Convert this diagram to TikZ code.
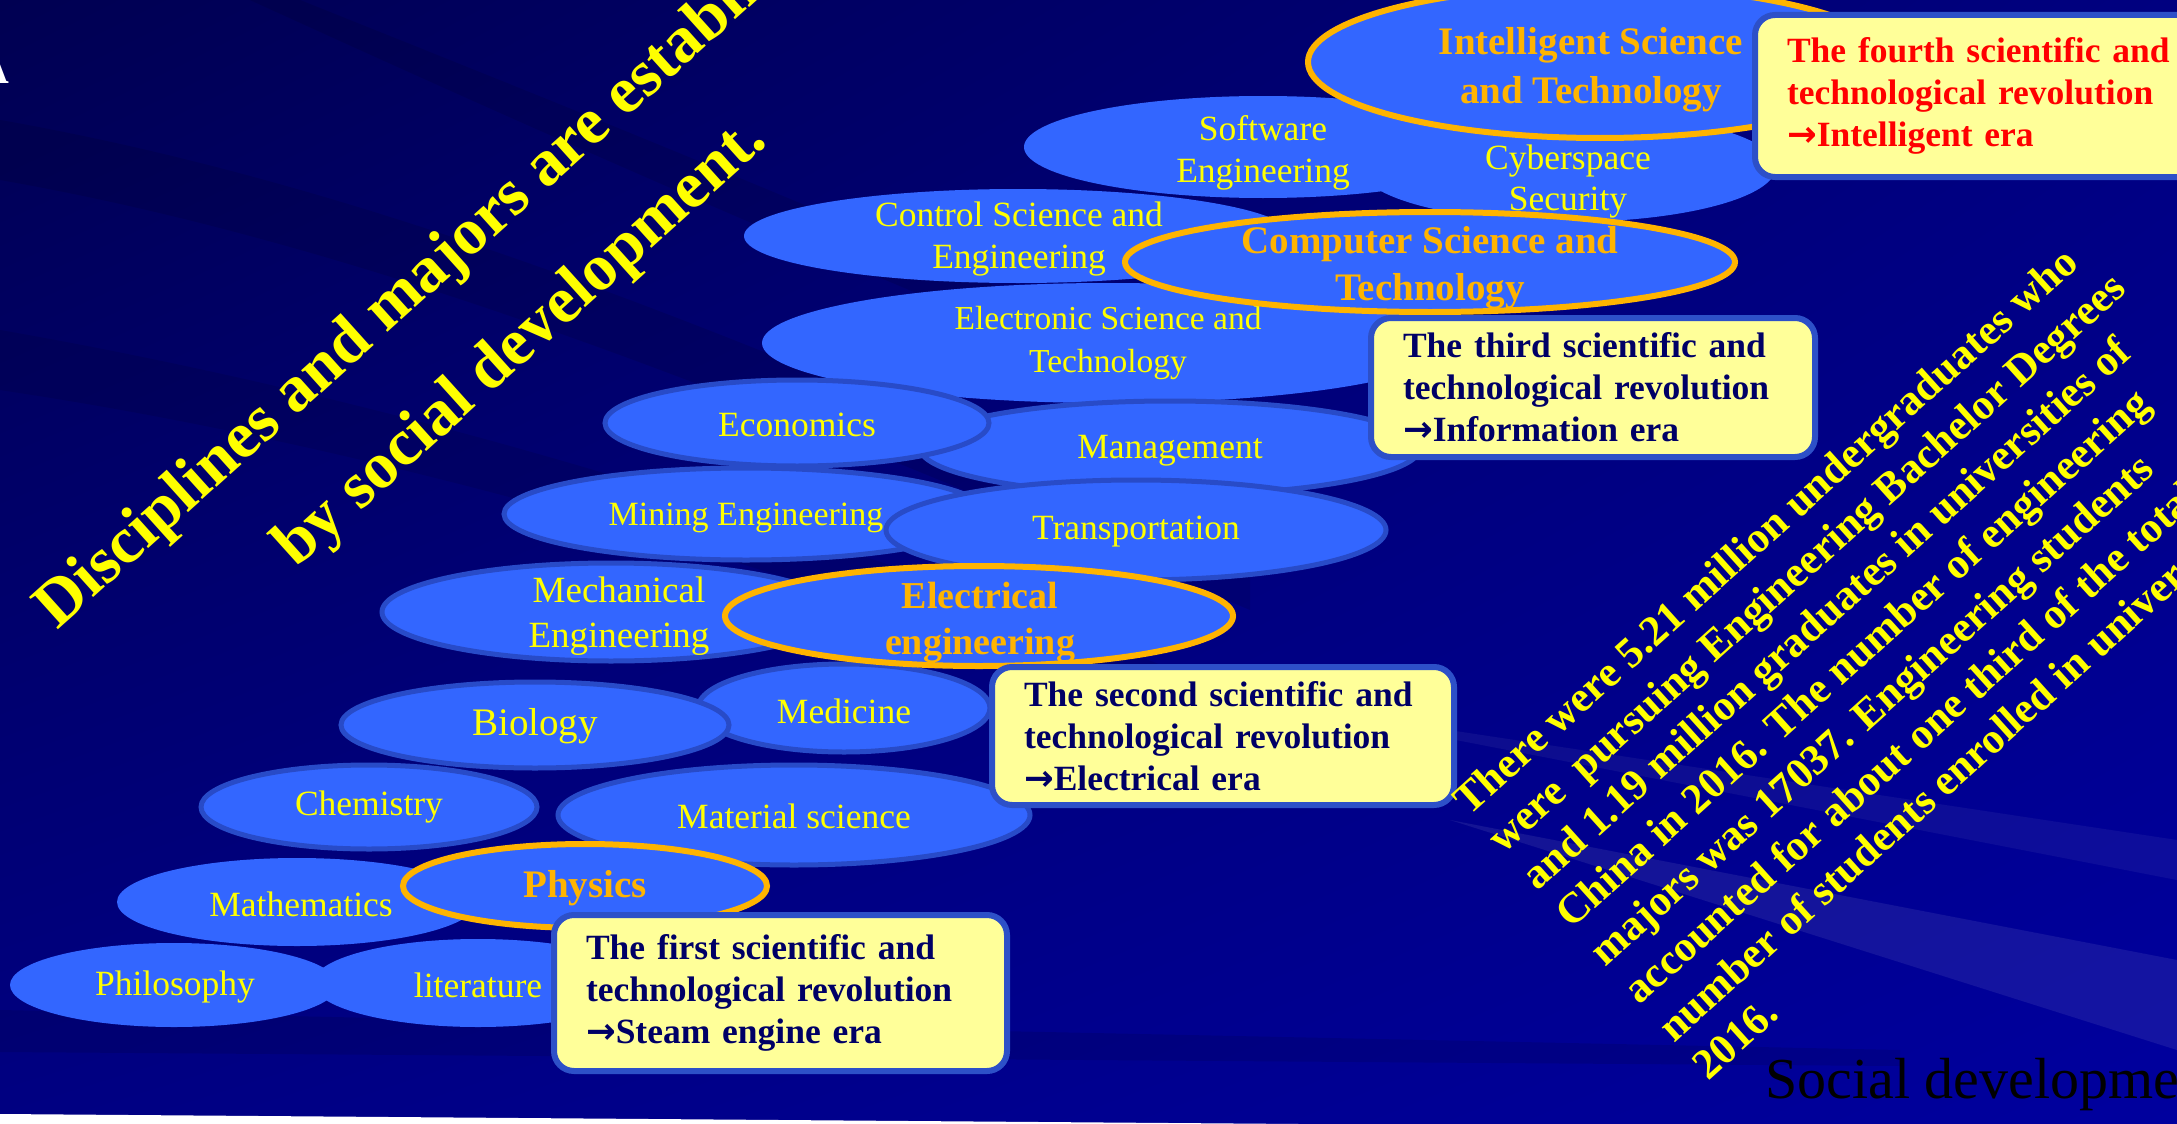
\documentclass[tikz,border=0pt]{standalone}
\usepackage{fontspec}
\setmainfont{Liberation Serif}
\newfontfamily\arrowfont{DejaVu Sans}
\newcommand\erarrow{{\arrowfont\bfseries →}}
\usetikzlibrary{shadings}
\definecolor{ellblue}{RGB}{51,102,255}
\definecolor{ellline}{RGB}{40,75,200}
\definecolor{orng}{RGB}{255,180,0}
\definecolor{yel}{RGB}{255,255,0}
\definecolor{boxfill}{RGB}{255,255,153}
\definecolor{boxline}{RGB}{45,80,200}
\definecolor{navytxt}{RGB}{0,0,102}
\definecolor{bgTL}{RGB}{0,0,82}
\definecolor{bgTR}{RGB}{0,0,128}
\definecolor{bgBL}{RGB}{0,0,130}
\definecolor{bgBR}{RGB}{0,0,158}
\begin{document}
\begin{tikzpicture}[x=1pt,y=-1pt,
  ellp/.style={fill=ellblue},
  ello/.style={fill=ellblue, draw=ellline, line width=5pt},
  ellh/.style={fill=ellblue, draw=orng, line width=6pt},
  lbl/.style={text=yel, inner sep=0pt, align=center, font=\fontsize{35.5}{42}\selectfont},
  lblh/.style={text=orng, inner sep=0pt, align=center, font=\bfseries\fontsize{39}{47}\selectfont},
  erabox/.style={draw=boxline, line width=6pt, fill=boxfill, rounded corners=20pt, align=left, text=navytxt, font=\bfseries\fontsize{35.5}{42}\selectfont, inner xsep=32pt, inner ysep=0pt, anchor=north west},
  ttl/.style={text=yel, inner sep=0pt, anchor=base west, rotate=42, font=\bfseries\fontsize{66}{70}\selectfont},
]
\useasboundingbox (0,0) rectangle (2177,1124);
\clip (0,0) rectangle (2177,1124);
% background
\shade[upper left=bgTL, upper right=bgTR, lower left=bgBL, lower right=bgBR] (0,0) rectangle (2177,1124);
\fill[black, opacity=0.10] (0,120) .. controls (400,190) and (800,360) .. (1250,560) -- (1250,610) .. controls (800,420) and (400,250) .. (0,180) -- cycle;
\fill[black, opacity=0.09] (0,330) .. controls (400,400) and (800,520) .. (1250,700) -- (1250,740) .. controls (800,570) and (400,450) .. (0,390) -- cycle;
\fill[black, opacity=0.10] (300,0) .. controls (600,120) and (900,240) .. (1300,420) -- (1300,450) .. controls (900,290) and (600,160) .. (250,0) -- cycle;
\fill[black, opacity=0.10] (0,1010) -- (1900,1050) -- (1900,1066) -- (0,1052) -- cycle;
\fill[white, opacity=0.08] (1450,820) -- (2177,960) -- (2177,1050) -- cycle;
\fill[white, opacity=0.05] (1250,700) -- (2177,840) -- (2177,880) -- cycle;
\fill[white] (0,1114) -- (1300,1124) -- (0,1124) -- cycle;
\node[anchor=base east, text=white, inner sep=0pt, font=\bfseries\fontsize{44}{44}\selectfont] (afrag) at (9,84) {A};

% title
\node[ttl] (title1) at (57,631) {Disciplines and majors are established};
\node[ttl] (title2) at (296,569) {by social development.};

% bottom group
\path[ellp] (174,985) ellipse [x radius=164, y radius=42];
\node[lbl] (phil) at (175,987) {Philosophy};
\path[ellp] (478,983) ellipse [x radius=165, y radius=44];
\node[lbl] (lit) at (478,985) {literature};
\path[ellp] (297,902) ellipse [x radius=180, y radius=44];
\node[lbl] (math) at (301,904) {Mathematics};
\path[ello] (369,807) ellipse [x radius=168, y radius=42];
\node[lbl] (chem) at (369,807) {Chemistry};
\path[ello] (794,815) ellipse [x radius=236, y radius=50];
\node[lbl] (mat) at (794,816) {Material science};
\path[ellh] (585,886) ellipse [x radius=182, y radius=42];
\node[lblh] (phys) at (585,888) {Physics};
\node[erabox, minimum width=453pt, minimum height=156pt, text width=389pt] (era1) at (551,912) {The first scientific and\\technological revolution\\\erarrow Steam engine era};

% second group
\path[ello] (844,708) ellipse [x radius=146, y radius=44];
\node[lbl] (med) at (844,711) {Medicine};
\path[ello] (535,725) ellipse [x radius=194, y radius=43];
\node[lbl, font=\fontsize{39}{42}\selectfont] (bio) at (535,726) {Biology};
\path[ellp] (1018,236) ellipse [x radius=274, y radius=47];
\node[lbl] (ctrl) at (1019,239) {Control Science and\\Engineering};
\path[ellp] (1108,343) ellipse [x radius=346, y radius=60];
\node[lbl, font=\fontsize{33.5}{43}\selectfont] (elec) at (1108,343) {Electronic Science and\\Technology};
\path[ello] (1170,448) ellipse [x radius=250, y radius=47];
\node[lbl] (mgmt) at (1170,451) {Management};
\path[ello] (797,423) ellipse [x radius=192, y radius=43];
\node[lbl] (econ) at (797,425) {Economics};
\path[ello] (746,514) ellipse [x radius=242, y radius=46];
\node[lbl, font=\fontsize{34}{42}\selectfont] (mine) at (746,518) {Mining Engineering};
\path[ello] (611,612) ellipse [x radius=229, y radius=49];
\node[lbl, font=\fontsize{37}{45}\selectfont] (mech) at (619,616) {Mechanical\\Engineering};
\path[ello] (1136,530) ellipse [x radius=250, y radius=50];
\node[lbl] (trans) at (1136,532) {Transportation};
\path[ellh] (979,616) ellipse [x radius=254, y radius=50];
\node[lblh, font=\bfseries\fontsize{38}{46}\selectfont] (eleceng) at (980,623) {Electrical\\engineering};
\node[erabox, minimum width=462pt, minimum height=138pt, text width=398pt] (era2) at (989,664) {The second scientific and\\technological revolution\\\erarrow Electrical era};

% top group
\path[ellp] (1263,147) ellipse [x radius=239, y radius=51];
\node[lbl] (soft) at (1263,153) {Software\\Engineering};
\path[ellp] (1568,167) ellipse [x radius=208, y radius=55];
\node[lbl, font=\fontsize{35.5}{41}\selectfont] (cyber) at (1568,182) {Cyberspace\\Security};
\path[ellh] (1600,62) ellipse [x radius=292, y radius=76];
\node[lblh, font=\bfseries\fontsize{39}{49}\selectfont] (intel) at (1591,70) {Intelligent Science\\and Technology};
\path[ellh] (1430,262) ellipse [x radius=305, y radius=50];
\node[lblh] (comp) at (1430,268) {Computer Science and\\Technology};
\node[erabox, minimum width=444pt, minimum height=139pt, text width=380pt] (era3) at (1368,315) {The third scientific and\\technological revolution\\\erarrow Information era};
\node[erabox, text=red, minimum width=460pt, minimum height=162pt, text width=396pt] (era4) at (1752,12) {The fourth scientific and\\technological revolution\\\erarrow Intelligent era};

% statistics paragraph
\node[text=yel, inner sep=0pt, align=left, rotate=42, anchor=north west, font=\bfseries\fontsize{43}{51}\selectfont] (stats) at (1449,794) {There were 5.21 million undergraduates who\\were\ \ pursuing Engineering Bachelor Degrees\\and 1.19 million graduates in universities of\\China in 2016. The number of engineering\\majors was 17037. Engineering students\\accounted for about one third of the total\\number of students enrolled in universities in\\2016.};

\node[anchor=base west, inner sep=0pt, text=black, font=\fontsize{58}{60}\selectfont] (social) at (1765,1098) {Social development};
\end{tikzpicture}
\end{document}
